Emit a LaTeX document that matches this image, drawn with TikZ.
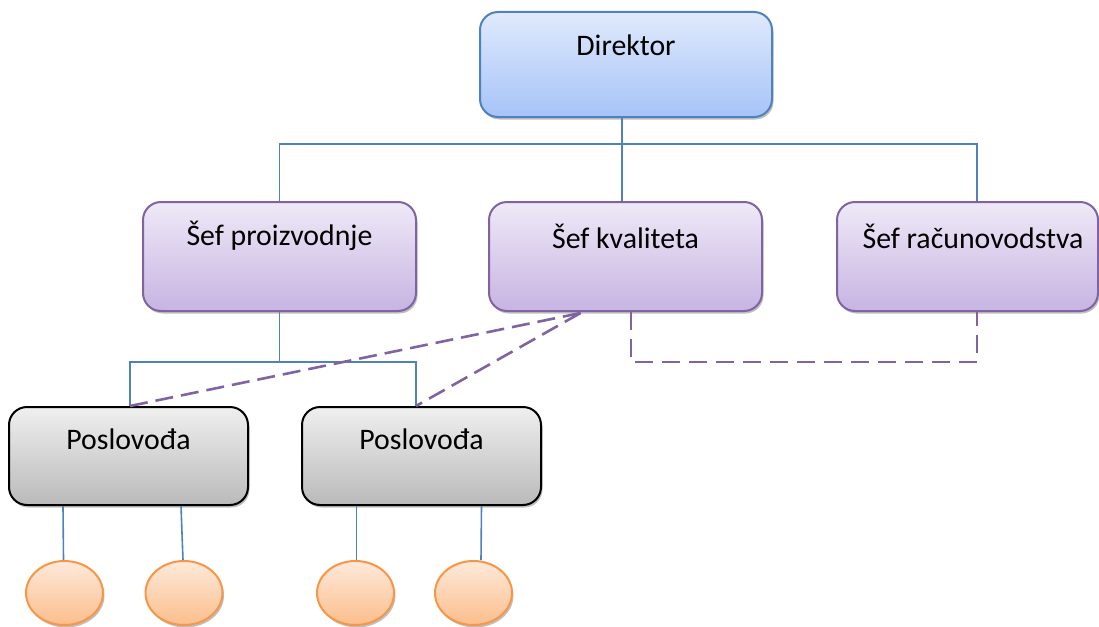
\documentclass[tikz,border=0pt]{standalone}
\usepackage{fontspec}
\setmainfont{Carlito}
\usetikzlibrary{shadows,calc,shapes.geometric}
\definecolor{dirtop}{HTML}{E0EAFC}
\definecolor{dirbot}{HTML}{A6C3F8}
\definecolor{dirline}{HTML}{4F81BD}
\definecolor{puptop}{HTML}{EFE9F7}
\definecolor{pupbot}{HTML}{C7B4E2}
\definecolor{pupline}{HTML}{8064A2}
\definecolor{gtop}{HTML}{EFEFEF}
\definecolor{gbot}{HTML}{BABABA}
\definecolor{otop}{HTML}{FEE9DA}
\definecolor{obot}{HTML}{FBBE8C}
\definecolor{oline}{HTML}{F79646}
\begin{document}
\begin{tikzpicture}[x=1pt,y=-1pt,
  shad/.style={drop shadow={shadow xshift=1.5pt, shadow yshift=-2.5pt, fill=black!50, opacity=0.5}},
  box/.style={rectangle, rounded corners=18pt, line width=2pt, inner sep=0pt, shad},
  dirbox/.style={box, draw=dirline, top color=dirtop, bottom color=dirbot},
  pupbox/.style={box, draw=pupline, top color=puptop, bottom color=pupbot, minimum height=109pt},
  greybox/.style={box, draw=black, top color=gtop, bottom color=gbot, minimum width=239pt, minimum height=98pt},
  worker/.style={ellipse, draw=oline, line width=2pt, top color=otop, bottom color=obot, minimum width=77pt, minimum height=64pt, inner sep=0pt, shad},
  txt/.style={font=\fontsize{29.8}{34}\selectfont, text=black, inner sep=0pt},
  conn/.style={draw=dirline, line width=1.6pt},
  dashconn/.style={draw=pupline, line width=2.6pt, dash pattern=on 18pt off 9pt}
]
\useasboundingbox (0,0) rectangle (1099,626);

% boxes
\node[dirbox, minimum width=292pt, minimum height=105pt] (dir) at (626,64.5) {};
\node[pupbox, minimum width=273pt] (sp) at (279.5,256.5) {};
\node[pupbox, minimum width=273pt] (sk) at (625.5,256.5) {};
\node[pupbox, minimum width=261pt] (sr) at (967.5,256.5) {};
\node[greybox] (p1) at (128.5,456) {};
\node[greybox] (p2) at (421.5,456) {};
\node[worker] (c1) at (64.5,593) {};
\node[worker] (c2) at (184,593) {};
\node[worker] (c3) at (355.5,593) {};
\node[worker] (c4) at (473.5,593) {};

% texts
\node[txt] (tdir) at ($(dir.north)+(0,34)$) {Direktor};
\node[txt] (tsp) at ($(sp.north)+(0,35)$) {Šef proizvodnje};
\node[txt] (tsk) at ($(sk.north)+(0,35)$) {Šef kvaliteta};
\node[txt] (tsr) at ($(sr.north)+(5.5,35)$) {Šef računovodstva};
\node[txt] (tp1) at ($(p1.north)+(0,33)$) {Poslovođa};
\node[txt] (tp2) at ($(p2.north)+(0,33)$) {Poslovođa};

% connector points
\coordinate (dirb) at ($(dir.south)+(-4,0)$);
\coordinate (dj) at ($(dirb)+(0,26)$);
\coordinate (skt) at ($(sk.north)+(-3.5,0)$);
\coordinate (srt) at ($(sr.north)+(9.5,0)$);
\coordinate (pj) at ($(sp.south)+(0,50)$);
\coordinate (p1t) at ($(p1.north)+(1.5,0)$);
\coordinate (p2t) at ($(p2.north)+(-5.5,0)$);
\coordinate (skd) at ($(sk.south)+(5.5,0)$);
\coordinate (srd) at ($(sr.south)+(9.5,0)$);
\coordinate (skx) at ($(sk.south)+(-45,1)$);

% solid connectors
\draw[conn] (dirb) -- (dj);
\draw[conn] (sp.north) |- (dj) -| (srt);
\draw[conn] (dj) -- (skt);
\draw[conn] (sp.south) -- (pj);
\draw[conn] (p1t) |- (pj) -| (p2t);
\draw[conn] ($(p1.south)+(-65.5,0)$) -- ($(c1.north)+(-1,0)$);
\draw[conn] ($(p1.south)+(52.5,0)$) -- ($(c2.north)+(-1,0)$);
\draw[conn] ($(p2.south)+(-65,0)$) -- ($(c3.north)+(1,0)$);
\draw[conn] ($(p2.south)+(60,0)$) -- ($(c4.north)+(7.5,0)$);

% dashed connectors
\draw[dashconn] (skd) -- ++(0,50) -| (srd);
\draw[dashconn, dash pattern=on 18pt off 8pt] (skx) -- (p1t);
\draw[dashconn, dash pattern=on 18pt off 8pt] (skx) -- (p2t);
\end{tikzpicture}
\end{document}
